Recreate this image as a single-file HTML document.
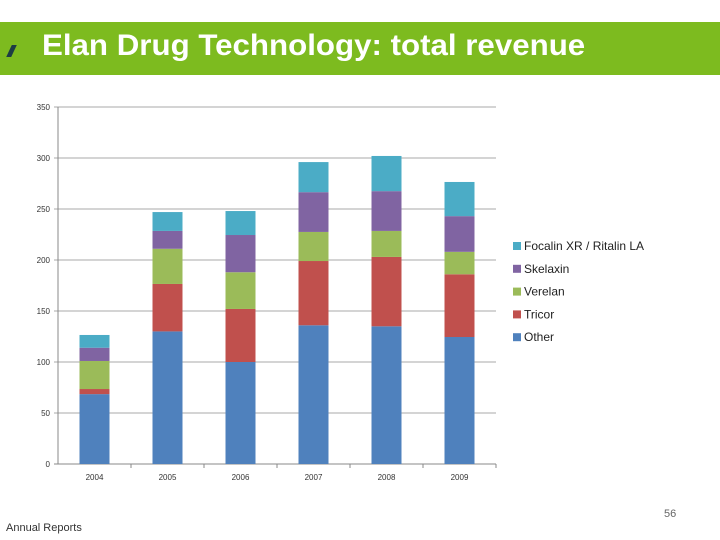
<!DOCTYPE html>
<html><head><meta charset="utf-8"><style>
body{margin:0;width:720px;height:540px;background:#fff;font-family:"Liberation Sans",sans-serif;position:relative;overflow:hidden}
#hdr{position:absolute;left:0;top:22px;width:720px;height:53px;background:#7dbb1f}
#title{position:absolute;left:42px;top:29px;font-size:30px;font-weight:bold;color:#fff;white-space:nowrap;transform-origin:0 0}
#mark{position:absolute;left:9px;top:45px;width:5px;height:12px;background:#1d3c44;transform:skewX(-25deg)}
.t{position:absolute;font-size:11px;color:#333}
</style></head><body>
<div id="hdr"></div>
<div id="mark"></div>
<div id="title">Elan Drug Technology: total revenue</div>
<svg id="chart" width="720" height="540" style="position:absolute;left:0;top:0"></svg>
<div class="t" style="left:6px;top:522px">Annual Reports</div>
<div class="t" style="left:664px;top:508px;color:#666">56</div>
<script>
const categories=["2004","2005","2006","2007","2008","2009"];
const seriesNames=["Other","Tricor","Verelan","Skelaxin","Focalin XR / Ritalin LA"];
const other=[68.5,130,100,136,135,124.5];
const tricor=[5,46.5,52,63,68,61.5];
const verelan=[27.5,34.5,36,28.5,25.5,22];
const skelaxin=[13,17.5,36.5,39,39,35];
const focalin=[12.5,18.5,23.5,29.5,34.5,33.5];
const yTicks=[0,50,100,150,200,250,300,350];
const colors=["#4f81bd","#c0504d","#9bbb59","#8064a2","#4bacc6"];
const series=[other,tricor,verelan,skelaxin,focalin];
const NS="http://www.w3.org/2000/svg";
const svg=document.getElementById('chart');
const ttl=document.getElementById('title');
ttl.style.transform='scaleX('+(543/ttl.offsetWidth)+')';
const x0=58,x1=496,y0=464,yTop=107,yMax=350;
const y=v=>y0-(v/yMax)*(y0-yTop);
const step=(x1-x0)/categories.length;
const xc=i=>x0+step*(i+0.5);
function mk(tag,attrs){const e=document.createElementNS(NS,tag);for(const k in attrs)e.setAttribute(k,attrs[k]);svg.appendChild(e);return e;}
yTicks.forEach(t=>{
  const l=mk('line',{x1:x0-4,x2:x1,y1:y(t),y2:y(t),stroke:t===0?'#888':'#aaa','stroke-width':1});
  
  
  const tx=mk('text',{x:x0-8,y:y(t)+3,'text-anchor':'end','font-size':8,fill:'#333','font-family':'Liberation Sans'});
  tx.textContent=t;
  
  
});
const ax=mk('line',{x1:x0,x2:x0,y1:yTop,y2:y0,stroke:'#888'});


categories.forEach((c,i)=>{
  const tk=mk('line',{x1:x0+step*(i+1),x2:x0+step*(i+1),y1:y0,y2:y0+4,stroke:'#888'});
  
  
  let acc=0;
  series.forEach((s,j)=>{
    const r=mk('rect',{x:xc(i)-15,width:30,y:y(acc+s[i]),height:y(acc)-y(acc+s[i]),fill:colors[j]});
    
    
    acc+=s[i];
  });
  const tx=mk('text',{x:xc(i),y:480,'text-anchor':'middle','font-size':8,fill:'#333','font-family':'Liberation Sans'});
  tx.textContent=c;
  
  
});
for(let j=4;j>=0;j--){
  const yy=246+(4-j)*22.8;
  const r=mk('rect',{x:513,y:yy-4,width:8,height:8,fill:colors[j]});
  
  
  const t=mk('text',{x:524,y:yy+4,'font-size':12,fill:'#222','font-family':'Liberation Sans'});
  t.textContent=seriesNames[j];
  
  
}
</script>
</body></html>
